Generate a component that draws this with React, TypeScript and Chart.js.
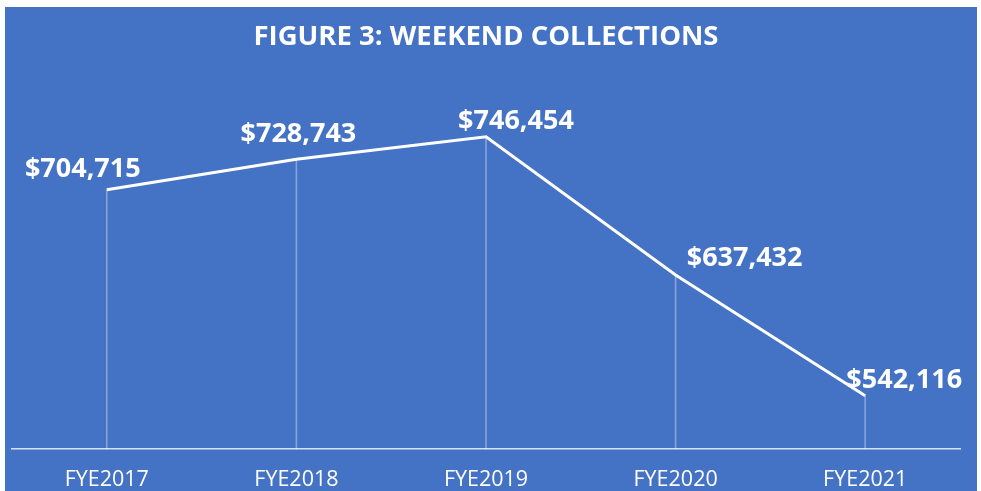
import React, { useEffect, useRef } from "react";
import { Chart, registerables } from "chart.js";

Chart.register(...registerables);

const categories = ["FYE2017", "FYE2018", "FYE2019", "FYE2020", "FYE2021"];
const collections = [704715, 728743, 746454, 637432, 542116];
const labelDx = [-24, 2, 30, 69, 39];
const labelDy = [-20, -25, -16, -17, -16];
const titleText = "FIGURE 3: WEEKEND COLLECTIONS";

const fmt = (v: number) => "$" + v.toLocaleString("en-US");

const labelPlugin = {
  id: "pointLabels",
  afterDatasetsDraw(chart: any) {
    const meta = chart.getDatasetMeta(0);
    const ctx = chart.ctx;
    ctx.save();
    ctx.fillStyle = "#ffffff";
    ctx.font = "bold 27px 'Open Sans'";
    ctx.textAlign = "center";
    ctx.textBaseline = "middle";
    meta.data.forEach((pt: any, i: number) => {
      ctx.fillText(fmt(collections[i]), pt.x + labelDx[i], pt.y + labelDy[i]);
    });
    ctx.restore();
  },
};

export default function App() {
  const ref = useRef<HTMLCanvasElement>(null);
  useEffect(() => {
    if (!ref.current) return;
    const chart = new Chart(ref.current, {
      type: "line",
      data: {
        labels: categories,
        datasets: [
          {
            type: "line",
            data: collections,
            borderColor: "#ffffff",
            borderWidth: 3,
            pointRadius: 0,
            tension: 0,
            order: 0,
          } as any,
          {
            type: "bar",
            data: collections,
            backgroundColor: "rgba(255,255,255,0.35)",
            barThickness: 1,
            order: 1,
          } as any,
        ],
      },
      options: {
        animation: false,
        responsive: false,
        layout: { padding: { left: 7, right: 17, top: 0, bottom: -20 } },
        plugins: {
          legend: { display: false },
          tooltip: { enabled: false },
          title: {
            display: true,
            text: titleText,
            color: "#ffffff",
            font: { family: "'Open Sans'", size: 27.5, weight: "bold", lineHeight: 1.2 },
            padding: { top: 14, bottom: 15 },
          },
        },
        scales: {
          x: {
            offset: true,
            grid: { display: false, drawTicks: false },
            border: { display: true, color: "#d9e1f2", width: 1.5 },
            ticks: {
              color: "#ffffff",
              padding: 18,
              font: { family: "'Open Sans'", size: 21.5, lineHeight: 1.2 },
            },
          },
          y: {
            display: false,
            min: 500000,
            max: 800000,
          },
        },
      },
      plugins: [labelPlugin],
    });
    return () => chart.destroy();
  }, []);
  return (
    <div
      style={{
        position: "absolute",
        left: 5,
        top: 7,
        width: 972,
        height: 484,
        background: "#4472C4",
      }}
    >
      <canvas ref={ref} width={972} height={484} style={{ display: "block" }} />
    </div>
  );
}
